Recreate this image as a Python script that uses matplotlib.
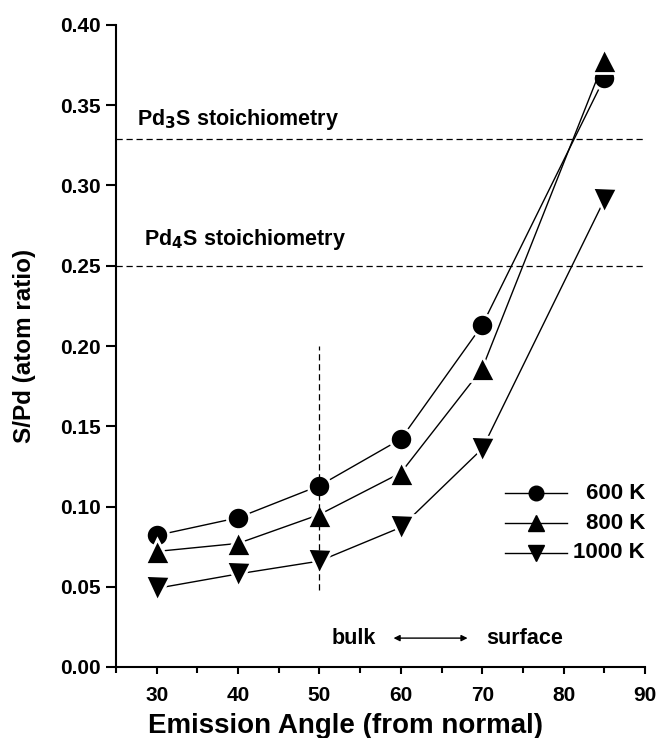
import matplotlib
matplotlib.use("Agg")
import matplotlib.pyplot as plt
from matplotlib.ticker import MultipleLocator, FormatStrFormatter

plt.rcParams['font.family'] = ['Liberation Sans', 'DejaVu Sans']
plt.rcParams['font.weight'] = 'bold'
plt.rcParams['mathtext.default'] = 'bf'

# emission angle (deg) and S/Pd atom ratio for each anneal temperature
angles = [30, 40, 50, 60, 70, 85]
ratio_600 = [0.082, 0.093, 0.113, 0.142, 0.213, 0.367]
ratio_800 = [0.072, 0.077, 0.095, 0.121, 0.186, 0.378]
ratio_1000 = [0.049, 0.058, 0.066, 0.087, 0.136, 0.291]
labels = ['600 K', '800 K', '1000 K']
markers = ['o', '^', 'v']
msizes = [16, 18, 18]

pd3s = 0.329
pd4s = 0.25

fig = plt.figure(figsize=(6.59, 7.38), dpi=100)
ax = fig.add_axes([116/659, 1 - 667/738, (645-116)/659, (667-25)/738])

for y, m, ms in zip([ratio_600, ratio_800, ratio_1000], markers, msizes):
    ax.plot(angles, y, color='black', lw=1.0, marker=m, markersize=ms,
            markerfacecolor='black', markeredgecolor='white', markeredgewidth=2.0)

ax.axhline(pd3s, color='black', lw=0.9, ls=(0, (5, 3)))
ax.axhline(pd4s, color='black', lw=0.9, ls=(0, (5, 3)))
ax.text(27.6, 0.338, 'Pd$_3$S stoichiometry', fontsize=15.5, fontweight='bold')
ax.text(28.4, 0.263, 'Pd$_4$S stoichiometry', fontsize=15.5, fontweight='bold')

ax.vlines(50, 0.048, 0.20, color='black', lw=0.9, ls=(0, (5, 3)))

ax.text(51.5, 0.018, 'bulk', fontsize=15.5, fontweight='bold', va='center')
ax.annotate('', xy=(59.1, 0.018), xytext=(68.2, 0.018),
            arrowprops=dict(arrowstyle='<|-|>', color='black', lw=1.0,
                            mutation_scale=9, shrinkA=0, shrinkB=0))
ax.text(70.45, 0.018, 'surface', fontsize=15.5, fontweight='bold', va='center')

# legend drawn by hand so the labels can be right-aligned like the original
leg_y = [0.271, 0.224, 0.178]
for ly, lab, m in zip(leg_y, labels, markers):
    ax.plot([0.735, 0.853], [ly, ly], transform=ax.transAxes, color='black', lw=1.0)
    ax.plot([0.794], [ly], transform=ax.transAxes, color='black', marker=m,
            markersize=10.5 if m == 'o' else 12, linestyle='none')
    ax.text(1.0, ly, lab, transform=ax.transAxes, fontsize=16, fontweight='bold',
            ha='right', va='center')

ax.set_xlim(25, 90)
ax.set_ylim(0, 0.40)
ax.xaxis.set_major_locator(MultipleLocator(10))
ax.xaxis.set_minor_locator(MultipleLocator(5))
ax.yaxis.set_major_locator(MultipleLocator(0.05))
ax.yaxis.set_major_formatter(FormatStrFormatter('%.2f'))
ax.spines['top'].set_visible(False)
ax.spines['right'].set_visible(False)
for s in ['left', 'bottom']:
    ax.spines[s].set_linewidth(1.5)
ax.tick_params(which='major', direction='out', width=1.5, labelsize=15)
ax.tick_params(axis='x', which='major', length=5, pad=9)
ax.tick_params(axis='x', which='minor', length=4, width=1.5)
ax.tick_params(axis='y', which='major', length=7, pad=4)
ax.tick_params(axis='y', which='minor', length=0)
for t in ax.get_xticklabels() + ax.get_yticklabels():
    t.set_fontweight('bold')

ax.set_xlabel('Emission Angle (from normal)', fontsize=20, fontweight='bold')
ax.set_ylabel('S/Pd (atom ratio)', fontsize=17.5, fontweight='bold')
ax.xaxis.set_label_coords(0.433, -0.071)
ax.yaxis.set_label_coords(-0.152, 0.5)

fig.savefig('out.png', dpi=100)
